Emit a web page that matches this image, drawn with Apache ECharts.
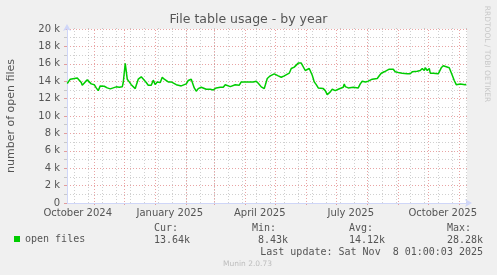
<!DOCTYPE html>
<html><head><meta charset="utf-8">
<script src="https://cdn.jsdelivr.net/npm/echarts@6/dist/echarts.min.js"></script>
<style>html,body{margin:0;padding:0;background:#F0F0F0}#c{width:497px;height:275px}</style>
</head><body><div id="c"></div>
<script>
// ---- data ----
const dates = [
'2024-10-05','2024-10-08','2024-10-10','2024-10-15','2024-10-17','2024-10-19','2024-10-20','2024-10-23','2024-10-25','2024-10-27',
'2024-10-29','2024-11-01','2024-11-03','2024-11-05','2024-11-07','2024-11-09','2024-11-11','2024-11-14','2024-11-17','2024-11-19',
'2024-11-23','2024-11-26','2024-11-29','2024-11-30','2024-12-01','2024-12-02','2024-12-03','2024-12-04','2024-12-06','2024-12-08',
'2024-12-10','2024-12-12','2024-12-13','2024-12-15','2024-12-18','2024-12-20','2024-12-23','2024-12-25','2024-12-28','2024-12-30',
'2025-01-01','2025-01-03','2025-01-06','2025-01-08','2025-01-10','2025-01-12','2025-01-14','2025-01-17','2025-01-19','2025-01-22',
'2025-01-24','2025-01-27','2025-01-29','2025-02-01','2025-02-03','2025-02-06','2025-02-08','2025-02-09','2025-02-11','2025-02-13',
'2025-02-16','2025-02-18','2025-02-21','2025-02-23','2025-02-25','2025-02-28','2025-03-03','2025-03-05','2025-03-07','2025-03-10',
'2025-03-12','2025-03-14','2025-03-17','2025-03-19','2025-03-22','2025-03-24','2025-03-26','2025-03-28','2025-03-30','2025-04-02',
'2025-04-04','2025-04-06','2025-04-09','2025-04-12','2025-04-14','2025-04-16','2025-04-17','2025-04-20','2025-04-22','2025-04-23',
'2025-04-26','2025-04-28','2025-04-30','2025-05-02','2025-05-04','2025-05-06','2025-05-07','2025-05-10','2025-05-12','2025-05-15',
'2025-05-17','2025-05-20','2025-05-22','2025-05-24','2025-05-27','2025-05-29','2025-05-31','2025-06-02','2025-06-04','2025-06-06',
'2025-06-07','2025-06-09','2025-06-11','2025-06-13','2025-06-15','2025-06-18','2025-06-20','2025-06-22','2025-06-25','2025-06-27',
'2025-06-29','2025-06-30','2025-07-03','2025-07-05','2025-07-08','2025-07-09','2025-07-10','2025-07-13','2025-07-15','2025-07-18',
'2025-07-20','2025-07-23','2025-07-25','2025-07-27','2025-07-30','2025-08-02','2025-08-04','2025-08-06','2025-08-08','2025-08-11',
'2025-08-13','2025-08-15','2025-08-18','2025-08-20','2025-08-23','2025-08-25','2025-08-27','2025-08-29','2025-09-01','2025-09-03',
'2025-09-05','2025-09-07','2025-09-10','2025-09-13','2025-09-15','2025-09-17','2025-09-20','2025-09-23','2025-09-25','2025-09-27',
'2025-09-28','2025-09-30','2025-10-02','2025-10-03','2025-10-06','2025-10-08','2025-10-11','2025-10-13','2025-10-14','2025-10-16',
'2025-10-18','2025-10-22','2025-10-24','2025-10-25','2025-10-27','2025-10-29','2025-10-31','2025-11-02','2025-11-04','2025-11-07',
'2025-11-08'
];
const openFiles = [
13730,14230,14420,14380,14230,13850,13540,13920,14150,13920,
13690,13600,13230,12920,13460,13650,13420,13230,13120,13230,
13350,13310,13350,13850,14000,16040,16040,14230,13920,13600,
13540,13150,13540,14230,14500,14310,13850,13540,13540,14120,
13600,13920,13850,14460,14230,14380,13920,13920,13850,13600,
13690,13460,13310,13690,14080,14230,14150,13230,12850,13150,
13310,13230,13080,12920,13080,13000,13230,13230,13310,13310,
13600,13380,13380,13540,13600,13460,13540,13920,14080,13920,
14040,13920,13920,14000,13770,13850,13350,13150,13080,14310,
14620,14540,14850,14690,14620,14770,14460,14620,14770,14920,
15460,15620,15770,16080,16080,16000,15230,15230,15460,15540,
14690,13920,13600,13230,13380,13150,12920,12460,12770,13080,
13150,12920,13080,13080,13310,13690,13380,13230,13380,13310,
13230,13230,13690,14000,13920,14000,14150,14230,14380,14310,
14620,14920,15080,15230,15380,15460,15380,15080,15000,14850,
14920,14850,14850,14850,15080,15080,15150,15230,15460,15230,
15540,15230,15460,14920,14920,14850,14850,14920,15540,15770,
15620,15540,15460,14690,14080,13600,13770,13690,13600,13600,
13640
];
const seriesName = 'open files';
const xLabelTexts = ['October 2024','January 2025','April 2025','July 2025','October 2025'];
const xLabelDates = ['2024-10-15T12:00:00Z','2025-01-15T12:00:00Z','2025-04-15T12:00:00Z','2025-07-15T12:00:00Z','2025-10-15T12:00:00Z'];
const statLabels = ['Cur:','Min:','Avg:','Max:'];
const statValues = ['13.64k','8.43k','14.12k','28.28k'];
const titleText = 'File table usage - by year';
const yAxisTitle = 'number of open files';
const lastUpdate = 'Last update: Sat Nov  8 01:00:03 2025';
const footer = 'Munin 2.0.73';
const watermark = 'RRDTOOL / TOBI OETIKER';

// ---- setup ----
const DAY = 86400000;
const xStart = Date.UTC(2024, 9, 4, 18);
const xEnd = xStart + 400 * DAY;
const monthTicks = [];
for (let i = 0; i <= 13; i++) { const t = Date.UTC(2024, 10 + i, 1); if (t <= xEnd) monthTicks.push(t); }
const weekTicks = [];
for (let t = Date.UTC(2024, 9, 12); t <= xEnd; t += 14 * DAY) weekTicks.push(t);
const labelValues = xLabelDates.map(d => Date.parse(d));
const seriesData = dates.map((d, i) => [Date.parse(d + 'T00:00:00Z'), openFiles[i]]);

const FONT = 'DejaVu Sans';
const MONO = 'DejaVu Sans Mono';
const TXT = '#555';
const RED = 'rgba(215,90,90,0.55)';
const GREY = 'rgba(150,150,150,0.45)';

function txt(x, y, text, opts) {
  const o = Object.assign({size: 10, family: MONO, color: TXT, align: 'left', valign: 'middle', rot: 0}, opts || {});
  return {
    type: 'text', x: x, y: y, rotation: o.rot, silent: true,
    style: {
      text: text, font: o.size + 'px "' + o.family + '"', fill: o.color,
      align: o.align, textAlign: o.align, verticalAlign: o.valign, textVerticalAlign: o.valign
    }
  };
}

const graphics = [
  txt(248.5, 19.5, titleText, {size: 12.5, family: FONT, align: 'center'}),
  txt(487, 54, watermark, {size: 7.5, family: FONT, align: 'center', color: '#c8c8c8', rot: -Math.PI / 2}),
  txt(483, 252, lastUpdate, {align: 'right'}),
  txt(247.5, 264, footer, {size: 7.5, family: FONT, align: 'center', color: '#bdbdbd'})
];
const statX = [154, 252, 349, 447];
statLabels.forEach((s, i) => {
  graphics.push(txt(statX[i], 228, s));
  graphics.push(txt(statX[i] + 36, 240, statValues[i], {align: 'right'}));
});

function gridAxis(ticks, color) {
  return {
    type: 'value', gridIndex: 0, position: 'bottom', offset: 2, min: xStart, max: xEnd,
    axisLine: {show: false}, axisLabel: {show: false}, splitLine: {show: false},
    axisTick: {show: true, inside: true, length: 176, customValues: ticks,
      lineStyle: {color: color, width: 1, type: [1, 2]}}
  };
}

const option = {
  animation: false,
  backgroundColor: '#F0F0F0',
  grid: {left: 67, top: 29, width: 400, height: 174, show: true, backgroundColor: '#FFFFFF', borderWidth: 0, containLabel: false, outerBoundsMode: 'none'},
  legend: {
    data: [seriesName], left: 14, top: 234, padding: 0, icon: 'rect', itemWidth: 6, itemHeight: 6, itemGap: 0,
    textStyle: {fontFamily: MONO, fontSize: 10, color: TXT}, selectedMode: false
  },
  graphic: graphics,
  xAxis: [
    gridAxis(weekTicks, GREY),
    gridAxis(monthTicks, RED),
    {
      type: 'value', gridIndex: 0, position: 'bottom', min: xStart, max: xEnd,
      axisLine: {show: false}, axisTick: {show: false}, splitLine: {show: false},
      axisLabel: {show: true, customValues: labelValues, margin: 5, fontFamily: FONT, fontSize: 10, color: TXT,
        formatter: v => { const i = labelValues.indexOf(v); return i >= 0 ? xLabelTexts[i] : ''; }}
    },
    {
      type: 'value', gridIndex: 0, position: 'bottom', min: xStart, max: xEnd,
      axisLine: {show: true, onZero: false, lineStyle: {color: '#CFD6F8', width: 1}, symbol: ['none', 'arrow'], symbolSize: [6, 7], symbolOffset: [0, 5]},
      axisTick: {show: false}, axisLabel: {show: false}, splitLine: {show: false}
    }
  ],
  yAxis: {
    type: 'value', min: 0, max: 20000, interval: 2000,
    name: yAxisTitle, nameLocation: 'middle', nameGap: 50, nameRotate: 90,
    nameTextStyle: {fontFamily: FONT, fontSize: 11, color: TXT},
    axisLine: {show: true, lineStyle: {color: '#CFD6F8', width: 1}, symbol: ['none', 'arrow'], symbolSize: [6, 7], symbolOffset: [0, 5]},
    axisTick: {show: true, length: 3, lineStyle: {color: RED}},
    minorTick: {show: true, splitNumber: 2, length: 3, lineStyle: {color: GREY}},
    axisLabel: {margin: 7, fontFamily: FONT, fontSize: 10, color: TXT, formatter: v => v === 0 ? '0' : (v / 1000) + ' k'},
    splitLine: {show: true, lineStyle: {color: RED, width: 1, type: [1, 2]}},
    minorSplitLine: {show: true, lineStyle: {color: GREY, width: 1, type: [1, 2]}}
  },
  series: [{
    name: seriesName, type: 'line', xAxisIndex: 3, yAxisIndex: 0, data: seriesData,
    showSymbol: false, symbol: 'none', color: '#00CC00',
    lineStyle: {color: '#00CC00', width: 1.5}, z: 5
  }]
};
const chart = echarts.init(document.getElementById('c'), null, {renderer: 'canvas'});
chart.setOption(option);
</script></body></html>
